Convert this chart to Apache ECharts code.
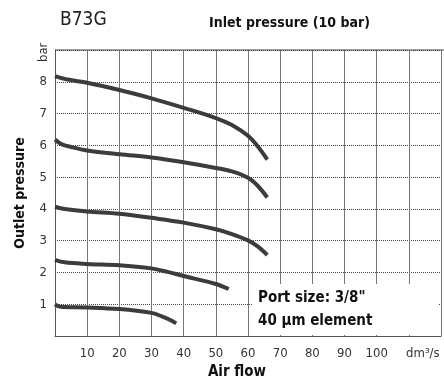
<!DOCTYPE html>
<html><head><meta charset="utf-8">
<script src="https://cdn.jsdelivr.net/npm/echarts@6/dist/echarts.min.js"></script>
<style>html,body{margin:0;padding:0;background:#fff}#c{width:444px;height:385px}</style>
</head><body><div id="c"></div>
<script>
var FONT = '"Liberation Sans Narrow","DejaVu Sans Condensed","Liberation Sans",sans-serif';
var xTicks = [10,20,30,40,50,60,70,80,90,100];
var unitLabel = 'dm³/s';
var yTicks = [1,2,3,4,5,6,7,8];
var curve8 = [[0,8.18],[4,8.07],[10,7.97],[20,7.74],[30,7.48],[40,7.18],[50,6.86],[55,6.64],[60,6.3],[63,5.97],[66,5.55]];
var curve6 = [[0,6.18],[2,6.04],[5,5.95],[10,5.84],[20,5.72],[30,5.62],[40,5.47],[50,5.29],[55,5.18],[60,4.98],[63,4.73],[66,4.36]];
var curve4 = [[0,4.07],[3,4.0],[10,3.92],[20,3.85],[30,3.72],[40,3.57],[50,3.36],[55,3.21],[60,3.01],[63,2.82],[66,2.55]];
var curve2 = [[0,2.4],[3,2.32],[10,2.27],[20,2.23],[30,2.13],[35,2.02],[40,1.89],[50,1.64],[54,1.48]];
var curve1 = [[0,1.0],[1.7,0.92],[10,0.9],[20,0.85],[30,0.73],[33,0.63],[35.5,0.52],[37.7,0.4]];

function ser(d){return {type:'line',data:d,smooth:0.35,showSymbol:false,lineStyle:{color:'#3c3c3c',width:4},z:3};}
var chart = echarts.init(document.getElementById('c'));
chart.setOption({
  animation:false,
  grid:{left:55,right:1,top:50,bottom:38},
  xAxis:{type:'value',min:0,max:120,interval:10,
    axisLine:{show:true,lineStyle:{color:'#555',width:1}},
    axisTick:{show:false},
    splitLine:{show:true,lineStyle:{color:'#777',width:1}},
    axisLabel:{fontFamily:FONT,fontSize:13,color:'#333',margin:11,
      formatter:function(v){ if(v===110) return '{u|'+unitLabel+'}'; return xTicks.indexOf(v)>=0?String(v):'';},
      rich:{u:{fontFamily:FONT,fontSize:13,color:'#333',padding:[0,0,0,28]}}},
    name:'Air flow',nameLocation:'middle',nameGap:25,
    nameTextStyle:{fontFamily:FONT,fontSize:15,fontWeight:'bold',color:'#111',padding:[0,22,0,0]}
  },
  yAxis:{type:'value',min:0,max:9,interval:1,
    axisLine:{show:true,lineStyle:{color:'#555',width:1}},
    axisTick:{show:false},
    splitLine:{show:true,lineStyle:{color:'#444',width:1,type:'dotted'}},
    axisLabel:{fontFamily:FONT,fontSize:13,color:'#333',margin:8,
      formatter:function(v){return yTicks.indexOf(v)>=0?String(v):'';}},
    name:'Outlet pressure',nameLocation:'middle',nameGap:28,nameRotate:90,
    nameTextStyle:{fontFamily:FONT,fontSize:14,fontWeight:'bold',color:'#111'}
  },
  series:[ser(curve8),ser(curve6),ser(curve4),ser(curve2),ser(curve1)],
  graphic:[
    {type:'line',shape:{x1:55,y1:50,x2:444,y2:50},style:{stroke:'#444',lineWidth:1},z:5},
    {type:'text',left:60,top:11,style:{text:'B73G',font:'19px '+FONT,fill:'#222'}},
    {type:'text',left:209,top:16,style:{text:'Inlet pressure (10 bar)',font:'bold 14px '+FONT,fill:'#111'}},
    {type:'text',x:50,y:62,rotation:Math.PI/2,style:{text:'bar',font:'13px '+FONT,fill:'#333',textAlign:'left',textVerticalAlign:'bottom'}},
    {type:'rect',shape:{x:252,y:284,width:186,height:51},style:{fill:'#fff'},z:10},
    {type:'text',left:258,top:291,z:11,style:{text:'Port size: 3/8"',font:'bold 15px '+FONT,fill:'#111'}},
    {type:'text',left:258,top:314,z:11,style:{text:'40 µm element',font:'bold 15px '+FONT,fill:'#111'}}
  ]
});
</script></body></html>
